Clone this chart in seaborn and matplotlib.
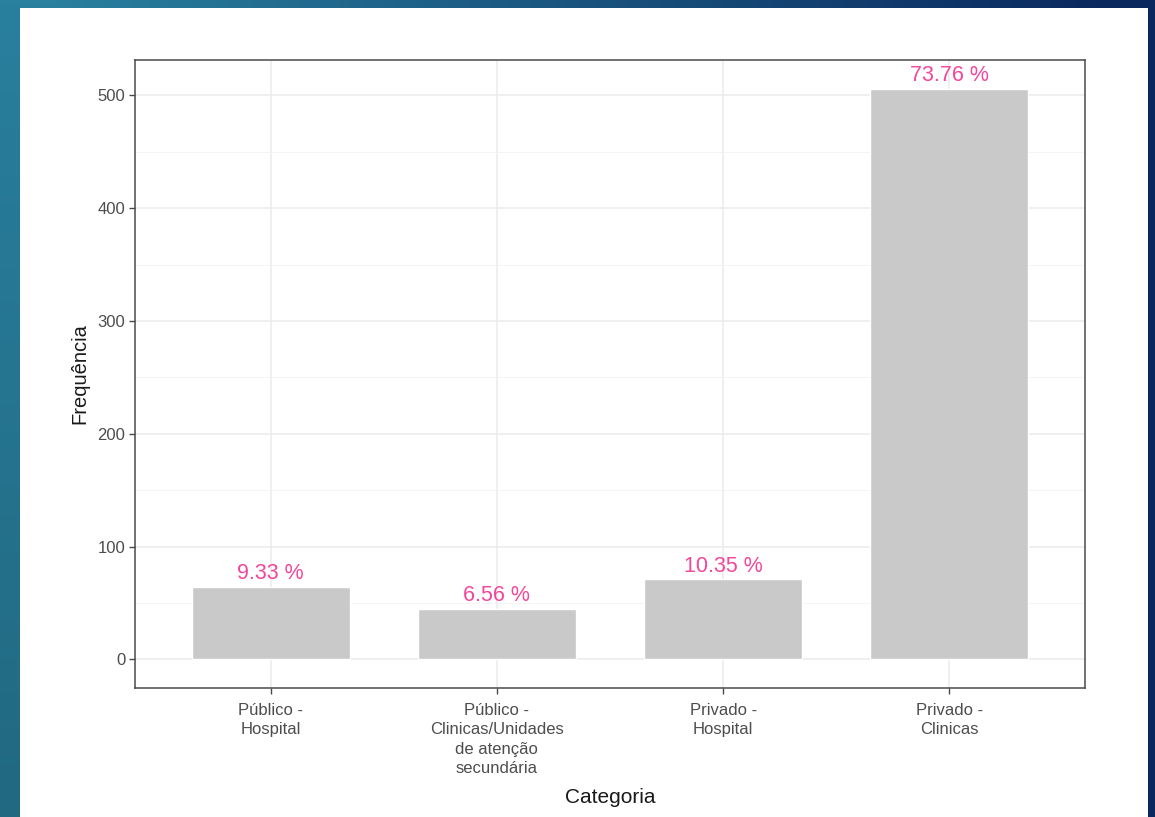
import matplotlib
matplotlib.use("Agg")
import matplotlib.pyplot as plt
from matplotlib.patches import Rectangle
from matplotlib.ticker import MultipleLocator
import numpy as np
import seaborn as sns

# Data
categorias = ["Público -\nHospital",
              "Público -\nClinicas/Unidades\nde atenção\nsecundária",
              "Privado -\nHospital",
              "Privado -\nClinicas"]
frequencias = [64, 45, 71, 506]
percentuais = ["9.33 %", "6.56 %", "10.35 %", "73.76 %"]

sns.set_theme(style="white")
plt.rcParams['font.family'] = ['Liberation Sans', 'DejaVu Sans']

fig = plt.figure(figsize=(11.55, 8.17), dpi=100)

# slide background: teal to navy gradient
bg = fig.add_axes([0, 0, 1, 1], zorder=-10)
gx = np.linspace(0, 1, 300)
gy = np.linspace(0, 1, 200)
X, Y = np.meshgrid(gx, gy)
left = np.array([0.16, 0.50, 0.62])
right = np.array([0.04, 0.16, 0.37])
t = np.clip(X * 1.1 - 0.05, 0, 1)[..., None]
grad = left * (1 - t) + right * t
grad = grad * (1 - 0.18 * Y[..., None] * (1 - t))
bg.imshow(grad, aspect='auto', extent=[0, 1, 0, 1], origin='upper')
bg.set_axis_off()

# white card
fig.patches.append(Rectangle((20 / 1155, 0), 1128 / 1155, 809 / 817,
                             transform=fig.transFigure, facecolor='white',
                             edgecolor='none', zorder=-5))

ax = fig.add_axes([135 / 1155, 1 - 688 / 817, 950 / 1155, 628 / 817])
ax.set_facecolor('white')

sns.barplot(x=categorias, y=frequencias, color='#c9c9c9', saturation=1,
            width=0.7, ax=ax, zorder=2)

for i, (f, p) in enumerate(zip(frequencias, percentuais)):
    ax.annotate(p, xy=(i, f), xytext=(0, 2), textcoords='offset points',
                ha='center', va='bottom', color='#f2479b', fontsize=15.5,
                zorder=3)

ax.set_xlim(-0.6, 3.6)
ax.set_ylim(-25.3, 531.3)
ax.yaxis.set_major_locator(MultipleLocator(100))
ax.yaxis.set_minor_locator(MultipleLocator(50))
ax.grid(which='major', color='#ebebeb', linewidth=1.1, zorder=0)
ax.grid(which='minor', axis='y', color='#f2f2f2', linewidth=0.6, zorder=0)
ax.set_axisbelow(True)

for s in ax.spines.values():
    s.set_color('#4a4a4a')
    s.set_linewidth(1.1)

ax.tick_params(axis='both', which='major', length=4, width=1, color='#4a4a4a',
               labelcolor='#4d4d4d', labelsize=12, pad=3, bottom=True, left=True)
ax.tick_params(axis='x', pad=7)
ax.tick_params(which='minor', length=0)
for lbl in ax.get_xticklabels():
    lbl.set_linespacing(1.35)

ax.set_xlabel('Categoria', fontsize=15, color='#1a1a1a', labelpad=9)
ax.set_ylabel('Frequência', fontsize=14.5, color='#1a1a1a', labelpad=6)

fig.savefig('out.png', dpi=100)
